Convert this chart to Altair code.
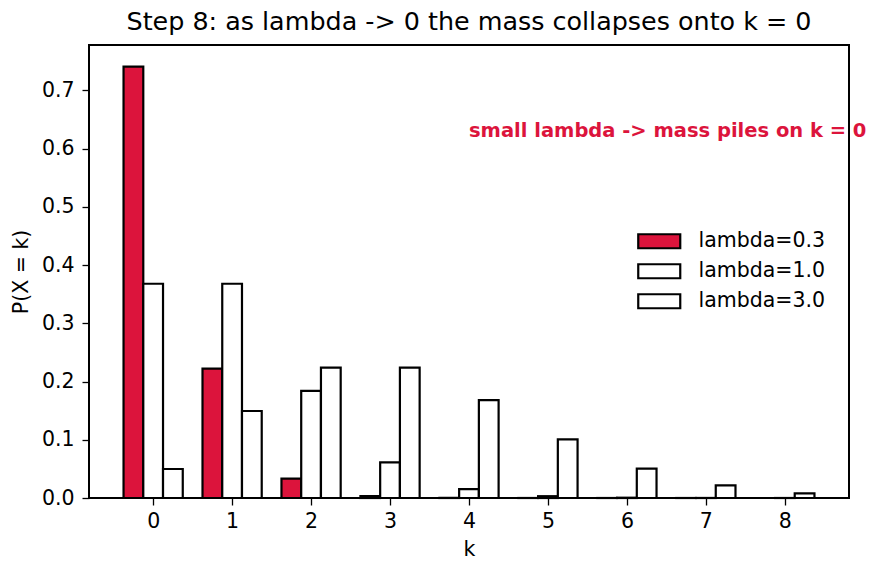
import altair as alt
import pandas as pd

k_values = [0, 1, 2, 3, 4, 5, 6, 7, 8]
series_names = ["lambda=0.3", "lambda=1.0", "lambda=3.0"]
p_lam03 = [0.7408, 0.2222, 0.0333, 0.0033, 0.00025, 0.000015, 0.0000008, 0.00000003, 0.000000001]
p_lam10 = [0.3679, 0.3679, 0.1839, 0.0613, 0.0153, 0.0031, 0.0005, 0.00007, 0.000009]
p_lam30 = [0.0498, 0.1494, 0.2240, 0.2240, 0.1680, 0.1008, 0.0504, 0.0216, 0.0081]
fill_colors = ["#DC143C", "white", "white"]
annotation = "small lambda -> mass piles on k = 0"

rows = []
for idx, (name, vals) in enumerate(zip(series_names, [p_lam03, p_lam10, p_lam30])):
    for k, p in zip(k_values, vals):
        rows.append({"k": k, "p": p, "series": name, "idx": idx})
df = pd.DataFrame(rows)

FONT = "DejaVu Sans"
FS = 20.5

bars = alt.Chart(df).transform_calculate(
    x0="datum.k + (datum.idx - 1) * 0.25 - 0.125",
    x1="datum.k + (datum.idx - 1) * 0.25 + 0.125",
).mark_bar(stroke="black", strokeWidth=2.2, opacity=1).encode(
    x=alt.X("x0:Q", scale=alt.Scale(domain=[-0.8125, 8.8125], nice=False, zero=False),
            axis=alt.Axis(values=k_values, title="k", format="d", grid=False, domain=False,
                          tickColor="black", tickSize=7, tickWidth=1.3, labelPadding=6,
                          labelFontSize=FS, titleFontSize=FS, titleFontWeight="normal",
                          labelColor="black", titleColor="black", titlePadding=8)),
    x2="x1:Q",
    y=alt.Y("p:Q", scale=alt.Scale(domain=[0, 0.7778], nice=False),
            axis=alt.Axis(values=[0, 0.1, 0.2, 0.3, 0.4, 0.5, 0.6, 0.7], format=".1f",
                          title="P(X = k)", grid=False, domain=False, tickColor="black",
                          tickSize=7, tickWidth=1.3, labelPadding=8, labelFontSize=FS,
                          titleFontSize=FS, titleFontWeight="normal", labelColor="black",
                          titleColor="black", titlePadding=10)),
    y2=alt.datum(0),
    fill=alt.Fill("series:N", scale=alt.Scale(domain=series_names, range=fill_colors),
                  legend=alt.Legend(title=None, orient="none", legendX=560, legendY=186,
                                    symbolType="M-3,-1H3V1H-3Z", symbolSize=196,
                                    symbolStrokeColor="black", symbolStrokeWidth=2.2,
                                    labelFontSize=FS, labelColor="black", rowPadding=6,
                                    labelOffset=29, labelFont=FONT)),
)

ann_df = pd.DataFrame({"x": [4.0], "y": [0.62], "text": [annotation]})
text = alt.Chart(ann_df).mark_text(
    align="left", baseline="alphabetic", color="#DC143C", fontWeight="bold", fontSize=19.5,
    font=FONT
).encode(x="x:Q", y="y:Q", text="text:N")

chart = alt.layer(bars, text).properties(
    width=760, height=453,
    padding={"left": 89, "top": 45, "right": 29, "bottom": 75},
    autosize=alt.AutoSizeParams(type="none"),
    title=alt.Title("Step 8: as lambda -> 0 the mass collapses onto k = 0",
                    fontSize=25.4, fontWeight="normal", font=FONT, color="black", offset=10),
).configure(font=FONT).configure_view(stroke="black", strokeWidth=2).configure_axis(
    labelFont=FONT, titleFont=FONT)

chart.save("out.html", embed_options={"renderer": "svg", "actions": False})
